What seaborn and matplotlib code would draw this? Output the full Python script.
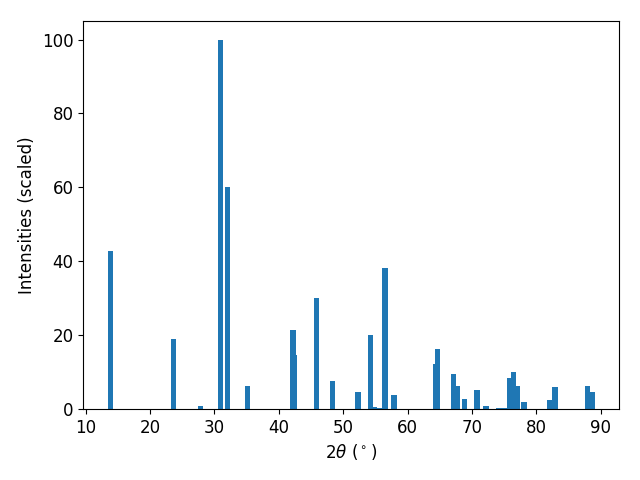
import matplotlib
matplotlib.use("Agg")
import matplotlib.pyplot as plt
import seaborn as sns

# peak positions (2theta, degrees) and scaled intensities
two_theta = [13.8, 23.6, 27.9, 30.9, 32.05, 35.1,
             42.2, 42.5, 45.9, 48.3, 52.3, 54.3, 54.9, 55.6, 56.5, 57.9,
             64.3, 64.6, 67.1, 67.8, 68.9, 70.8, 72.2, 74.2, 75.0,
             75.8, 76.4, 77.0, 78.1, 82.1, 82.9, 88.0, 88.65]
intensity = [42.8, 19.0, 0.8, 100.0, 60.0, 6.2,
             21.4, 14.6, 30.1, 7.6, 4.6, 20.0, 0.6, 0.3, 38.2, 3.8,
             12.2, 16.3, 9.5, 6.2, 2.7, 5.1, 0.8, 0.3, 0.3,
             8.4, 10.0, 6.2, 1.9, 2.4, 5.9, 6.2, 4.6]

# plain matplotlib look, seaborn only for the colour
color = sns.color_palette("tab10")[0]

fig, ax = plt.subplots(figsize=(6.4, 4.8), dpi=100)
ax.bar(two_theta, intensity, width=0.8, color=color)
ax.set_xlabel(r'2$\theta$ ($^\circ$)', fontsize=12)
ax.set_ylabel('Intensities (scaled)', fontsize=12)
ax.tick_params(labelsize=12)
fig.subplots_adjust(left=0.130, right=0.967, bottom=0.148, top=0.956)
fig.savefig('out.png')
